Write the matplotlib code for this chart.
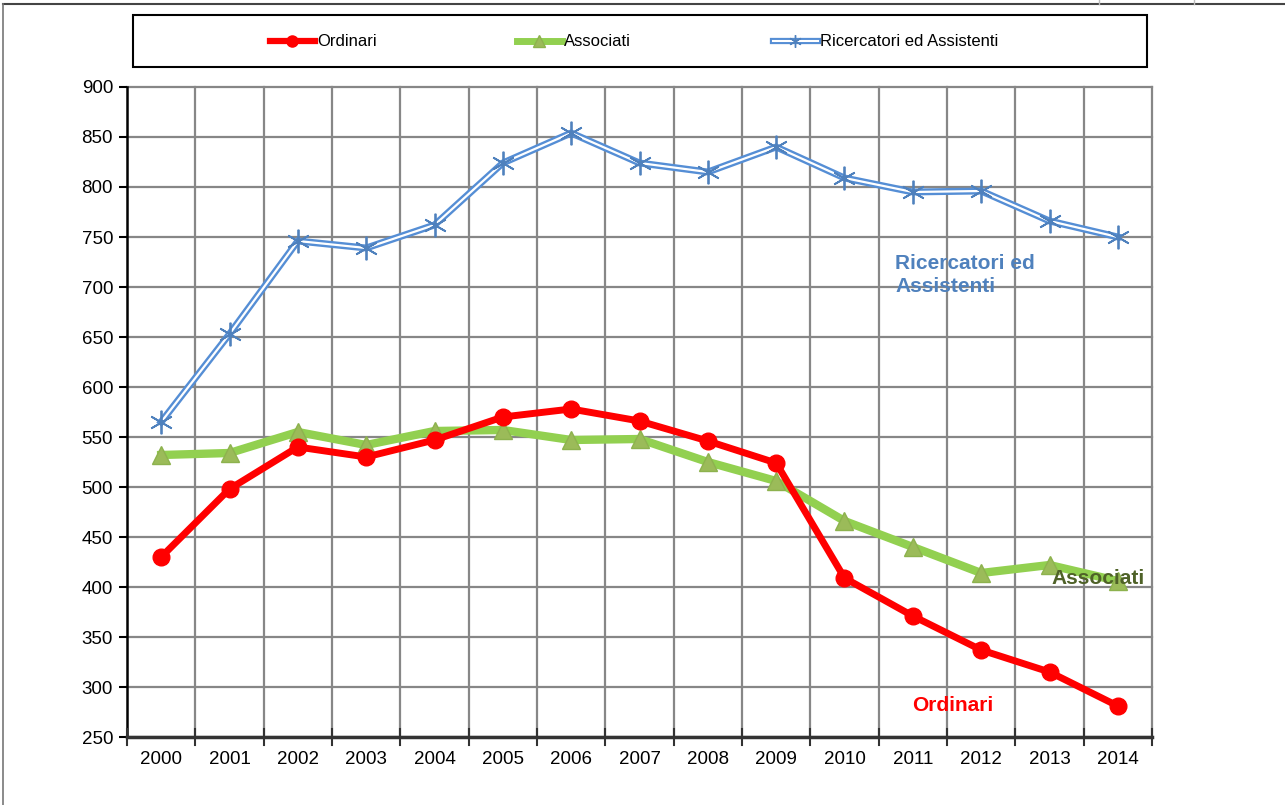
import matplotlib
matplotlib.use("Agg")
import matplotlib.pyplot as plt
from matplotlib.lines import Line2D
from matplotlib.patches import Rectangle

plt.rcParams['font.family'] = ['Liberation Sans', 'DejaVu Sans']

years = ['2000', '2001', '2002', '2003', '2004', '2005', '2006', '2007',
         '2008', '2009', '2010', '2011', '2012', '2013', '2014']
ordinari = [430, 498, 540, 530, 547, 570, 578, 566, 546, 524, 409, 371, 337, 315, 281]
associati = [532, 534, 555, 542, 556, 557, 547, 548, 525, 506, 466, 440, 414, 422, 406]
ricercatori = [565, 653, 746, 739, 762, 824, 854, 824, 815, 840, 809, 795, 796, 766, 750]
y_ticks = [250, 300, 350, 400, 450, 500, 550, 600, 650, 700, 750, 800, 850, 900]

W, H = 1285, 805
fig = plt.figure(figsize=(W / 100, H / 100), dpi=100)
fig.patch.set_facecolor('white')

def fx(px):
    return px / W

def fy(py):
    return 1 - py / H

ax = fig.add_axes([fx(127), fy(737), fx(1152) - fx(127), fy(87) - fy(737)])

x = list(range(len(years)))
RED = '#FF0000'
GREEN = '#92D050'
GREEN_M = '#9BBB59'
BLUE = '#4F81BD'
BLUE_L = '#558ED5'

ax.set_ylim(250, 900)
ax.set_xlim(-0.5, len(years) - 0.5)
ax.set_yticks(y_ticks)
ax.set_yticklabels([str(v) for v in y_ticks], fontsize=13.5)
ax.set_xticks(x)
ax.set_xticklabels(years, fontsize=13.5)
ax.tick_params(axis='x', length=0, pad=10)
ax.tick_params(axis='y', length=6, width=1.5, direction='out', pad=4)
for v in y_ticks:
    ax.axhline(v, color='#878787', lw=1.6, zorder=0, clip_on=False)
for b in [i + 0.5 for i in range(len(years))]:
    ax.axvline(b, color='#878787', lw=1.6, zorder=0, clip_on=False)
for b in [i - 0.5 for i in range(len(years) + 1)]:
    ax.plot([b, b], [250 - 8, 250 + 8], color='#333333', lw=1.5,
            clip_on=False, zorder=5)
ax.spines['top'].set_visible(False)
ax.spines['right'].set_visible(False)
ax.spines['left'].set_color('#000000')
ax.spines['left'].set_linewidth(1.8)
ax.spines['bottom'].set_color('#333333')
ax.spines['bottom'].set_linewidth(2.5)
ax.set_ylim(250, 900)

# Ricercatori: double line
ax.plot(x, ricercatori, color=BLUE_L, lw=5.0, zorder=3, solid_joinstyle='miter')
ax.plot(x, ricercatori, color='white', lw=1.6, zorder=3.1, solid_joinstyle='miter')
ax.plot(x, ricercatori, ls='none', marker=(6, 2, 0), ms=17, mew=1.3,
        color=BLUE, zorder=3.2)
# Associati
ax.plot(x, associati, color=GREEN, lw=6, marker='^', ms=13,
        mfc=GREEN_M, mec='#8DB24E', zorder=4)
# Ordinari
ax.plot(x, ordinari, color=RED, lw=5, marker='o', ms=12,
        mfc=RED, mec=RED, zorder=5)

# Inline labels
fig.text(fx(895), fy(275), 'Ricercatori ed\nAssistenti', color=BLUE,
         fontsize=15, fontweight='bold', va='center', ha='left',
         linespacing=1.25)
fig.text(fx(1051), fy(578), 'Associati', color='#4F6228', fontsize=15,
         fontweight='bold', va='center', ha='left', zorder=10)
fig.text(fx(912), fy(705), 'Ordinari', color=RED, fontsize=15,
         fontweight='bold', va='center', ha='left')

# Legend box
fig.patches.append(Rectangle((fx(133), fy(67)), fx(1147) - fx(133), fy(15) - fy(67),
                             transform=fig.transFigure, fill=False,
                             edgecolor='black', lw=1.5))
ly = fy(41)
entries = [
    (270, 'Ordinari', 'o'),
    (517, 'Associati', '^'),
    (773, 'Ricercatori ed Assistenti', 'r'),
]
for x0, label, kind in entries:
    xs = [fx(x0), fx(x0 + 45)]
    if kind == 'o':
        fig.add_artist(Line2D(xs, [ly, ly], color=RED, lw=4.5, transform=fig.transFigure))
        fig.add_artist(Line2D([fx(x0 + 22)], [ly], marker='o', ms=8, color=RED,
                              transform=fig.transFigure))
    elif kind == '^':
        fig.add_artist(Line2D(xs, [ly, ly], color=GREEN, lw=5, transform=fig.transFigure))
        fig.add_artist(Line2D([fx(x0 + 22)], [ly], marker='^', ms=8, mfc=GREEN_M,
                              mec='#8DB24E', transform=fig.transFigure))
    else:
        fig.add_artist(Line2D(xs, [ly, ly], color=BLUE_L, lw=4.5, transform=fig.transFigure))
        fig.add_artist(Line2D(xs, [ly, ly], color='white', lw=1.5, transform=fig.transFigure))
        fig.add_artist(Line2D([fx(x0 + 22)], [ly], marker=(6, 2, 0), ms=9, mew=1,
                              color=BLUE, transform=fig.transFigure))
    fig.text(fx(x0 + 47), ly, label, fontsize=12, va='center', ha='left')

# Outer frame lines (spreadsheet border)
fig.add_artist(Line2D([fx(3), 1], [fy(4), fy(4)], color='#444444', lw=1.5,
                      transform=fig.transFigure))
fig.add_artist(Line2D([fx(3), fx(3)], [fy(4), 0], color='#777777', lw=1.2,
                      transform=fig.transFigure))
for px in (1099, 1194):
    fig.add_artist(Line2D([fx(px), fx(px)], [fy(4), 1], color='#BBBBBB', lw=1,
                          transform=fig.transFigure))

fig.savefig('out.png', dpi=100, facecolor='white')
